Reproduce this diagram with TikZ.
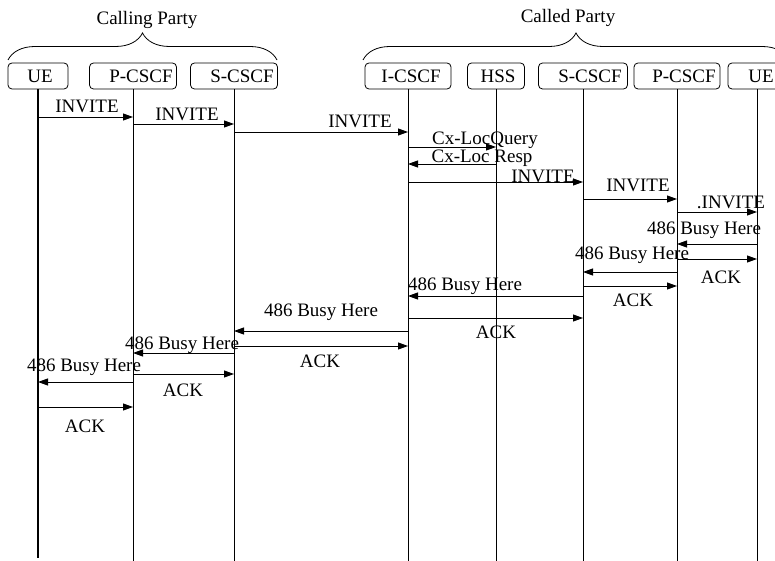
\documentclass[tikz,border=0pt]{standalone}
\usepackage{fontspec}
\setmainfont{Liberation Serif}
\usetikzlibrary{arrows.meta,decorations.pathreplacing}
\begin{document}
\begin{tikzpicture}[x=1pt,y=1pt,
  font=\fontsize{19}{20}\selectfont,
  entity/.style={draw,rounded corners=4pt,minimum height=26,inner sep=0pt,line width=0.8pt},
  life/.style={line width=0.8pt},
  msg/.style={line width=0.9pt,-{Triangle[length=10pt,width=7pt]}},
  lbl/.style={inner sep=0pt},
  bracestyle/.style={decorate,decoration={brace,amplitude=27pt},line width=0.8pt}]
\useasboundingbox (0,0) rectangle (775,-561);
\clip (0,0) rectangle (775,-561);
% entities
\node[entity,minimum width=60] (ue1) at (38,-76) {\hspace{4pt}UE};
\node[entity,minimum width=87] (pc1) at (133,-76) {\hspace{16pt}P-CSCF};
\node[entity,minimum width=87] (sc1) at (234,-76) {\hspace{16pt}S-CSCF};
\node[entity,minimum width=86] (ic) at (408,-76) {\hspace{6pt}I-CSCF};
\node[entity,minimum width=57] (hss) at (496,-76) {\hspace{4pt}HSS};
\node[entity,minimum width=89] (sc2) at (583,-76) {\hspace{14pt}S-CSCF};
\node[entity,minimum width=86] (pc2) at (677,-76) {\hspace{14pt}P-CSCF};
\node[entity,minimum width=58] (ue2) at (757,-76) {\hspace{8pt}UE};
% braces and titles
\draw[bracestyle] (8,-60) -- (277,-60);
\draw[bracestyle] (363,-60) -- (789,-60);
\node[lbl] (calling) at (147,-20) {Calling Party};
\node[lbl] (called) at (568,-18) {Called Party};
% lifelines
\draw[line width=2pt] (ue1.south) -- (ue1 |- 0,-558);
\foreach \n in {pc1,sc1,ic,hss,sc2,pc2,ue2}{\draw[life] (\n.south) -- (\n |- 0,-561);}
% messages
\draw[msg] (ue1 |- 0,-117) -- (pc1 |- 0,-117);
\node[lbl] (l1) at (87,-106) {INVITE};
\draw[msg] (pc1 |- 0,-124) -- (sc1 |- 0,-124);
\node[lbl] (l2) at (187,-114) {INVITE};
\draw[msg] (sc1 |- 0,-132) -- (ic |- 0,-132);
\node[lbl] (l3) at (360,-121) {INVITE};
\draw[msg] (ic |- 0,-147) -- (hss |- 0,-147);
\node[lbl] (l4) at (485,-140) {Cx-LocQuery};
\draw[msg] (hss |- 0,-164) -- (ic |- 0,-164);
\node[lbl] (l5) at (482,-158.5) {Cx-Loc Resp};
\draw[msg] (ic |- 0,-182) -- (sc2 |- 0,-182);
\node[lbl] (l6) at (543,-176) {INVITE};
\draw[msg] (sc2 |- 0,-199) -- (pc2 |- 0,-199);
\node[lbl] (l7) at (638,-185) {INVITE};
\draw[msg] (pc2 |- 0,-212) -- (ue2 |- 0,-212);
\node[lbl] (l8) at (731,-202) {.INVITE};
\draw[msg] (ue2 |- 0,-244) -- (pc2 |- 0,-244);
\node[lbl] (l9) at (704,-230) {486 Busy Here};
\draw[msg] (pc2 |- 0,-259) -- (ue2 |- 0,-259);
\node[lbl] (l10) at (721,-277) {ACK};
\draw[msg] (pc2 |- 0,-272) -- (sc2 |- 0,-272);
\node[lbl] (l11) at (632,-255) {486 Busy Here};
\draw[msg] (sc2 |- 0,-286) -- (pc2 |- 0,-286);
\node[lbl] (l12) at (633,-300) {ACK};
\draw[msg] (sc2 |- 0,-296) -- (ic |- 0,-296);
\node[lbl] (l13) at (465,-286) {486 Busy Here};
\draw[msg] (ic |- 0,-318) -- (sc2 |- 0,-318);
\node[lbl] (l14) at (496,-332) {ACK};
\draw[msg] (ic |- 0,-331) -- (sc1 |- 0,-331);
\node[lbl] (l15) at (321,-312) {486 Busy Here};
\draw[msg] (sc1 |- 0,-346) -- (ic |- 0,-346);
\node[lbl] (l16) at (320,-361) {ACK};
\draw[msg] (sc1 |- 0,-353) -- (pc1 |- 0,-353);
\node[lbl] (l17) at (182,-345) {486 Busy Here};
\draw[msg] (pc1 |- 0,-374) -- (sc1 |- 0,-374);
\node[lbl] (l18) at (183,-390) {ACK};
\draw[msg] (pc1 |- 0,-382) -- (ue1 |- 0,-382);
\node[lbl] (l19) at (84,-367) {486 Busy Here};
\draw[msg] (ue1 |- 0,-407) -- (pc1 |- 0,-407);
\node[lbl] (l20) at (85,-426) {ACK};
\end{tikzpicture}
\end{document}
